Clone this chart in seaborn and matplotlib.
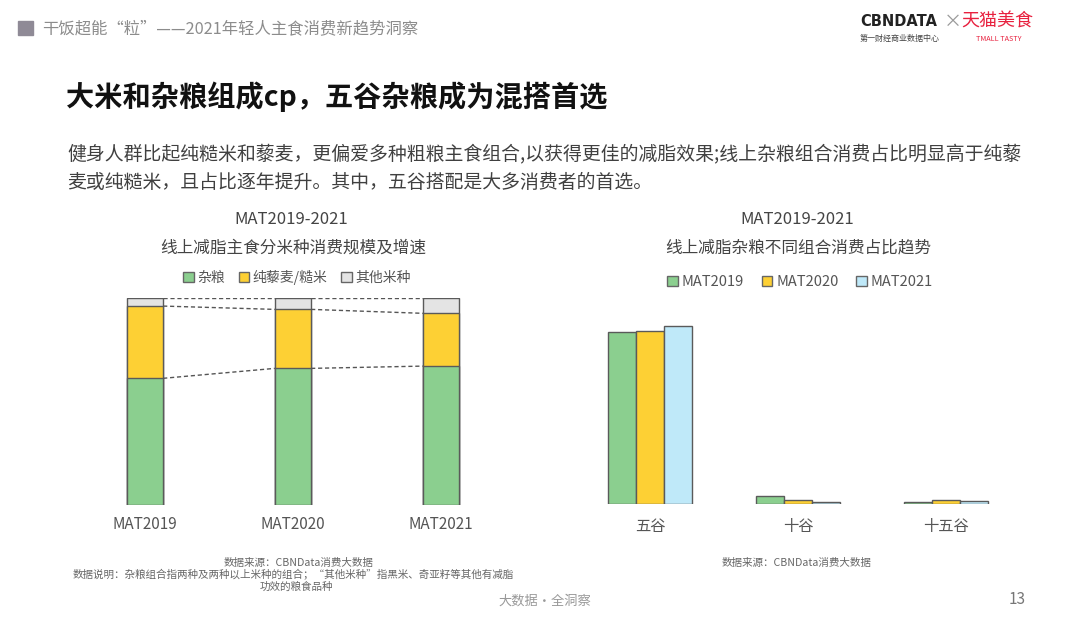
import numpy as np
import pandas as pd
import matplotlib
matplotlib.use("Agg")
import matplotlib.pyplot as plt
from matplotlib.patches import Patch, Rectangle
import seaborn as sns

# left chart: share of rice types (%)
years = ["MAT2019", "MAT2020", "MAT2021"]
grain_mix = [61.2, 66.0, 67.1]      # 杂粮
quinoa_brown = [34.9, 28.5, 25.5]   # 纯藜麦/糙米
other_rice = [3.9, 5.5, 7.4]        # 其他米种

# right chart: share of grain combos
combos = ["五谷", "十谷", "十五谷"]
share_2019 = [86.2, 4.2, 0.8]
share_2020 = [86.7, 1.9, 2.0]
share_2021 = [89.2, 0.9, 1.4]
periods = ["MAT2019", "MAT2020", "MAT2021"]

GREEN = "#8bcf8f"
YELLOW = "#fdd034"
BLUE = "#bfe9f9"
GREY = "#e4e4e4"
EDGE = "#5a5a5a"

sns.set_theme(style="white")
plt.rcParams["font.family"] = ["Noto Sans CJK SC", "DejaVu Sans"]

W, H = 1080, 618
fig = plt.figure(figsize=(10.8, 6.18), dpi=100)


def px(x, y):
    return x / W, 1 - y / H


def axes_px(left, top, right, bottom):
    return fig.add_axes([left / W, 1 - bottom / H, (right - left) / W, (bottom - top) / H])


# header
fig.patches.append(Rectangle(px(18, 35), 15 / W, 14 / H, transform=fig.transFigure,
                             color="#8f8a96", zorder=5))
fig.text(*px(42, 29), "干饭超能“粒”——2021年轻人主食消费新趋势洞察", fontsize=11.75,
         color="#8c8c8c", va="center")
fig.text(*px(860, 22), "CBNDATA", fontsize=10.5, fontweight="bold", color="#222222",
         va="center", family=["DejaVu Sans"])
fig.text(*px(944, 22), "×", fontsize=13, color="#9a9a9a", va="center")
fig.text(*px(961, 22), "天猫美食", fontsize=13, color="#e8213f", va="center")
fig.text(*px(860, 38), "第一财经商业数据中心", fontsize=5.8, color="#444444", va="center")
fig.text(*px(976, 39), "TMALL TASTY", fontsize=5.2, color="#e8213f", va="center")

# title and paragraph
fig.text(*px(66, 97), "大米和杂粮组成cp，五谷杂粮成为混搭首选", fontsize=20.3,
         fontweight="bold", color="#111111", va="center")
fig.text(*px(67, 155), "健身人群比起纯糙米和藜麦，更偏爱多种粗粮主食组合,以获得更佳的减脂效果;线上杂粮组合消费占比明显高于纯藜",
         fontsize=13.6, color="#404040", va="center")
fig.text(*px(67, 182), "麦或纯糙米，且占比逐年提升。其中，五谷搭配是大多消费者的首选。",
         fontsize=13.6, color="#404040", va="center")

# ---- left chart: stacked bars ----
ax1 = axes_px(71, 298, 515, 505)
bw = 0.245
cum_green = np.array(grain_mix)
cum_yellow = cum_green + np.array(quinoa_brown)
cum_total = cum_yellow + np.array(other_rice)
df1 = pd.DataFrame({"year": years, "green": cum_green, "yellow": cum_yellow, "total": cum_total})

sns.barplot(data=df1, x="year", y="total", color=GREY, width=bw, edgecolor=EDGE,
            linewidth=1, saturation=1, ax=ax1)
sns.barplot(data=df1, x="year", y="yellow", color=YELLOW, width=bw, edgecolor=EDGE,
            linewidth=1, saturation=1, ax=ax1)
sns.barplot(data=df1, x="year", y="green", color=GREEN, width=bw, edgecolor=EDGE,
            linewidth=1, saturation=1, ax=ax1)

for i in range(len(years) - 1):
    for level in (cum_total, cum_yellow, cum_green):
        ax1.plot([i + bw / 2, i + 1 - bw / 2], [level[i], level[i + 1]],
                 ls=(0, (3, 2)), color="#555555", lw=1)

ax1.set_xlim(-0.5, 2.5)
ax1.set_ylim(0, 100)
ax1.set_xlabel("")
ax1.set_ylabel("")
ax1.set_yticks([])
ax1.tick_params(axis="x", length=0, pad=8, labelsize=11, labelcolor="#555555")
sns.despine(ax=ax1, left=True, bottom=True)

fig.text(*px(291, 219), "MAT2019-2021", fontsize=12, color="#444444", ha="center", va="center")
fig.text(*px(293, 248), "线上减脂主食分米种消费规模及增速", fontsize=12, color="#444444",
         ha="center", va="center")
h1 = [Patch(facecolor=c, edgecolor="#666666", lw=1) for c in (GREEN, YELLOW, GREY)]
fig.legend(h1, ["杂粮", "纯藜麦/糙米", "其他米种"], loc="center", bbox_to_anchor=px(297, 277),
           ncol=3, frameon=False, fontsize=10, handlelength=0.75, handleheight=0.75,
           handletextpad=0.25, columnspacing=1.0, labelcolor="#555555")

fig.text(*px(299, 563), "数据来源：CBNData消费大数据", fontsize=7.6, color="#666666",
         ha="center", va="center")
fig.text(*px(293, 575), "数据说明：杂粮组合指两种及两种以上米种的组合；“其他米种”指黑米、奇亚籽等其他有减脂",
         fontsize=7.6, color="#666666", ha="center", va="center")
fig.text(*px(296, 587), "功效的粮食品种", fontsize=7.6, color="#666666", ha="center", va="center")

# ---- right chart: grouped bars ----
ax2 = axes_px(576, 298, 1020, 504)
df2 = pd.DataFrame({
    "combo": combos * 3,
    "period": [p for p in periods for _ in combos],
    "share": share_2019 + share_2020 + share_2021,
})
sns.barplot(data=df2, x="combo", y="share", hue="period", palette=[GREEN, YELLOW, BLUE],
            width=0.574, edgecolor=EDGE, linewidth=1, saturation=1, legend=False, ax=ax2)
ax2.set_xlim(-0.5, 2.5)
ax2.set_ylim(0, 103)
ax2.set_xlabel("")
ax2.set_ylabel("")
ax2.set_yticks([])
ax2.tick_params(axis="x", length=0, pad=10, labelsize=11, labelcolor="#555555")
sns.despine(ax=ax2, left=True, bottom=True)

fig.text(*px(797, 219), "MAT2019-2021", fontsize=12, color="#444444", ha="center", va="center")
fig.text(*px(798, 248), "线上减脂杂粮不同组合消费占比趋势", fontsize=12, color="#444444",
         ha="center", va="center")
h2 = [Patch(facecolor=c, edgecolor="#666666", lw=1) for c in (GREEN, YELLOW, BLUE)]
fig.legend(h2, periods, loc="center", bbox_to_anchor=px(800, 282), ncol=3, frameon=False,
           fontsize=10.5, handlelength=0.75, handleheight=0.75, handletextpad=0.25,
           columnspacing=1.2, labelcolor="#555555")

fig.text(*px(722, 563), "数据来源：CBNData消费大数据", fontsize=7.6, color="#666666", va="center")

# footer
fig.text(*px(545, 601), "大数据·全洞察", fontsize=9.5, color="#999999", ha="center", va="center")
fig.text(*px(1017, 600), "13", fontsize=11, color="#777777", ha="center", va="center")

fig.savefig("out.png", dpi=100, facecolor="white")
